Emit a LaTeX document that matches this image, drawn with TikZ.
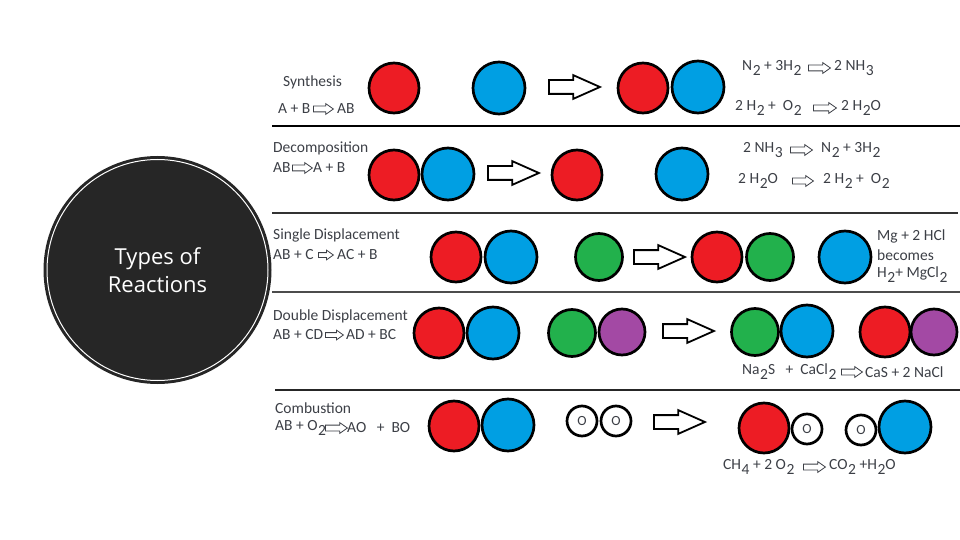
\documentclass[tikz,border=0pt]{standalone}
\usepackage{fontspec}
\setmainfont{Carlito}
\newfontfamily\hubfont{Open Sans}
\usepackage{xcolor}
\usetikzlibrary{shapes,shapes.arrows}
\definecolor{atomred}{HTML}{ED1C24}
\definecolor{atomblue}{HTML}{009FE3}
\definecolor{atomgreen}{HTML}{22B14C}
\definecolor{atompurple}{HTML}{A349A4}
\definecolor{hubgray}{HTML}{262626}
\definecolor{textgray}{HTML}{3C3F46}
\newcommand{\dn}[1]{\kern0.6pt\raisebox{-0.7ex}{#1}}
\tikzset{
  atom/.style={circle, draw=black, line width=2.7pt, inner sep=0pt},
  redatom/.style={atom, fill=atomred, minimum width=50pt},
  blueatom/.style={atom, fill=atomblue, minimum width=52pt},
  greenatom/.style={atom, fill=atomgreen, minimum width=47pt},
  purpleatom/.style={atom, fill=atompurple, minimum width=46pt},
  oxatom/.style={atom, fill=white, minimum width=30pt, font=\fontsize{14}{16}\selectfont, text=textgray},
  bigarrow/.style={single arrow, anchor=tail, draw=black, fill=white, line width=1.8pt, inner xsep=0pt, inner ysep=6pt,
    minimum height=51pt, single arrow head extend=5pt, single arrow tip angle=48},
  smallarrow/.style={single arrow, anchor=tail, draw=textgray, fill=white, line width=0.8pt, inner xsep=0pt, inner ysep=2.5pt,
    minimum height=#1, single arrow head extend=2.5pt, single arrow tip angle=70},
  lbl/.style={anchor=west, inner sep=0pt, text=textgray, font=\fontsize{15.5}{18}\selectfont},
  rowline/.style={draw=#1, line width=2pt},
  hubouter/.style={circle, fill=hubgray, minimum width=228pt, inner sep=0pt},
  hub/.style={circle, draw=white, fill=hubgray, line width=1pt, minimum width=221pt, inner sep=0pt,
    text=white, align=center, font=\hubfont\fontsize{22}{28}\selectfont}
}
\begin{document}
\begin{tikzpicture}[x=1pt, y=-1pt]
\useasboundingbox (0,0) rectangle (960,540);
% Title circle
\node[hubouter] (hubback) at (157.5,270) {};
\node[hub] (hubtext) at (157.5,270) {Types of\\Reactions};
% Row dividers
\coordinate (d1a) at (272,126); \coordinate (d1b) at (960,126);
\coordinate (d2a) at (272,213); \coordinate (d2b) at (958,213);
\coordinate (d3a) at (272,292); \coordinate (d3b) at (960,292);
\coordinate (d4a) at (275,390); \coordinate (d4b) at (960,390);
\draw[rowline=black] (d1a) -- (d1b);
\draw[rowline=black!80, line width=2.6pt] (d2a) -- (d2b);
\draw[rowline=black!70] (d3a) -- (d3b);
\draw[rowline=black!85, line width=1.6pt] (d4a) -- (d4b);
% Synthesis
\node[lbl] (synname) at (283,82) {Synthesis};
\node[lbl] (syngena) at (278,109) {A + B};
\node[smallarrow=20pt] (syngenarr) at (313,109) {};
\node[lbl] (syngenb) at (337,109) {AB};
\node[redatom] (synr1) at (394,88) {};
\node[blueatom] (synb1) at (499,88) {};
\node[bigarrow] (synarr) at (548,87) {};
\node[redatom] (synr2) at (643,88) {};
\node[blueatom] (synb2) at (698,87) {};
\node[lbl] (synaa) at (742,68) {N\dn{2} + 3H\dn{2}};
\node[smallarrow=22pt] (synaarr) at (808,68) {};
\node[lbl] (synab) at (834,68) {2 NH\dn{3}};
\node[lbl] (synba) at (735,108) {2 H\dn{2} +\ \ O\dn{2}};
\node[smallarrow=23pt] (synbarr) at (813,108) {};
\node[lbl] (synbb) at (841,108) {2 H\dn{2}O};
% Decomposition
\node[lbl] (decname) at (273,148) {Decomposition};
\node[lbl] (decgena) at (273,168) {AB};
\node[smallarrow=20pt] (decgenarr) at (292,168) {};
\node[lbl] (decgenb) at (313,168) {A + B};
\node[redatom] (decr1) at (394,175) {};
\node[blueatom] (decb1) at (448,174) {};
\node[bigarrow] (decarr) at (487,173) {};
\node[redatom] (decr2) at (577,175) {};
\node[blueatom] (decb2) at (682,174) {};
\node[lbl] (decaa) at (743,150) {2 NH\dn{3}};
\node[smallarrow=22pt] (decaarr) at (790,150) {};
\node[lbl] (decab) at (821,150) {N\dn{2} + 3H\dn{2}};
\node[lbl] (decba) at (738,181) {2 H\dn{2}O};
\node[smallarrow=21pt] (decbarr) at (792,181) {};
\node[lbl] (decbb) at (823,181) {2 H\dn{2} +\ \ O\dn{2}};
% Single displacement
\node[lbl] (sinname) at (273,235) {Single Displacement};
\node[lbl] (singena) at (273,255) {AB + C};
\node[smallarrow=15pt, inner ysep=2pt] (singenarr) at (318,255) {};
\node[lbl] (singenb) at (337,255) {AC + B};
\node[redatom] (sinr1) at (456,257) {};
\node[blueatom] (sinb1) at (511,257) {};
\node[greenatom] (sing1) at (599,257) {};
\node[bigarrow] (sinarr) at (633,257) {};
\node[redatom] (sinr2) at (717,257) {};
\node[greenatom] (sing2) at (770,257) {};
\node[blueatom] (sinb2) at (845,257) {};
\node[lbl] (sinaa) at (877,236) {Mg + 2 HCl};
\node[lbl] (sinab) at (877,255) {becomes};
\node[lbl] (sinac) at (877,275) {H\dn{2}+ MgCl\dn{2}};
% Double displacement
\node[lbl] (dblname) at (273,316) {Double Displacement};
\node[lbl] (dblgena) at (273,335) {AB + CD};
\node[smallarrow=18pt, inner ysep=2pt] (dblgenarr) at (325,335) {};
\node[lbl] (dblgenb) at (346,335) {AD + BC};
\node[redatom] (dblr1) at (439,333) {};
\node[blueatom] (dblb1) at (493,333) {};
\node[greenatom] (dblg1) at (572,333) {};
\node[purpleatom] (dblp1) at (622,332) {};
\node[bigarrow] (dblarr) at (662,331) {};
\node[greenatom] (dblg2) at (755,332) {};
\node[blueatom] (dblb2) at (807,331) {};
\node[redatom] (dblr2) at (885,332) {};
\node[purpleatom] (dblp2) at (934,332) {};
\node[lbl] (dblaa) at (742,372) {Na\dn{2}S\ \ \ +\ \ CaCl\dn{2}};
\node[smallarrow=21pt] (dblaarr) at (841,372) {};
\node[lbl] (dblab) at (865,372) {CaS + 2 NaCl};
% Combustion
\node[lbl] (comname) at (275,408) {Combustion};
\node[lbl] (comgena) at (275,428) {AB + O\dn{2}};
\node[smallarrow=22pt] (comgenarr) at (325,428) {};
\node[lbl] (comgenb) at (347,428) {AO\ \ \ +\ \ BO};
\node[redatom] (comr1) at (454,426) {};
\node[blueatom] (comb1) at (508,425) {};
\node[oxatom] (como1) at (582,421) {O};
\node[oxatom] (como2) at (616,421) {O};
\node[bigarrow] (comarr) at (653,422) {};
\node[redatom] (comr2) at (764,428) {};
\node[oxatom] (como3) at (807,429) {O};
\node[oxatom] (como4) at (861,430) {O};
\node[blueatom] (comb2) at (905,427) {};
\node[lbl] (comaa) at (723,467) {CH\dn{4} + 2 O\dn{2}};
\node[smallarrow=22pt] (comaarr) at (803,467) {};
\node[lbl] (comab) at (829,467) {CO\dn{2} +H\dn{2}O};
\end{tikzpicture}
\end{document}
